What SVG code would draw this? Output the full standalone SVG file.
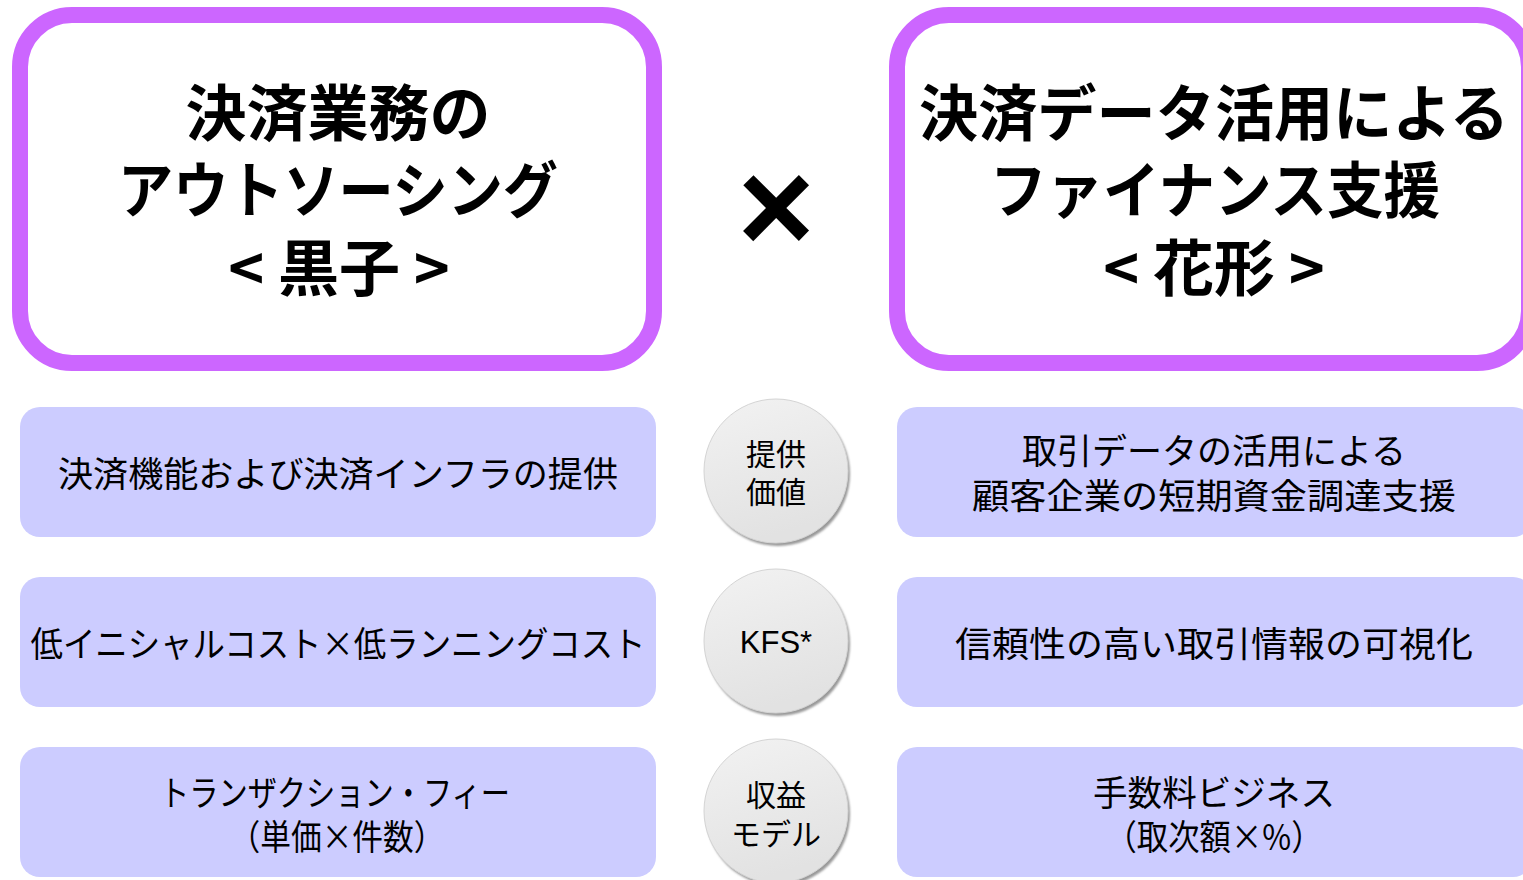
<svg xmlns="http://www.w3.org/2000/svg" width="1523" height="880" viewBox="0 0 1523 880">
<defs>
<style>
.big{fill:none;stroke:#CC66FF;stroke-width:16}
.box{fill:#CCCCFF}
.t{font-family:"Noto Sans CJK JP","Noto Sans CJK SC",sans-serif;fill:#000;text-anchor:middle}
.title{font-size:61px;font-weight:bold}
.bt{font-size:35px}
.ct{font-size:30px}
.circ{fill:url(#cg);stroke:#d4d4d4;stroke-width:1}
.sh{fill:#999999;filter:url(#blur)}
</style>
<linearGradient id="cg" x1="0" y1="0" x2="0.3" y2="1">
<stop offset="0" stop-color="#f2f2f2"/>
<stop offset="1" stop-color="#e2e2e2"/>
</linearGradient>
<filter id="blur" x="-20%" y="-20%" width="140%" height="140%"><feGaussianBlur stdDeviation="1.2"/></filter>
</defs>
<rect width="1523" height="880" fill="#fff"/>

<g id="left-title">
<rect class="big" x="20" y="15" width="634" height="348" rx="52"/>
<text class="t title" x="338" y="136">決済業務の</text>
<text class="t title" x="338" y="213" textLength="440" lengthAdjust="spacingAndGlyphs">アウトソーシング</text>
<text class="t title" x="339" y="291">&lt; 黒子 &gt;</text>
</g>

<g id="times">
<text x="776" y="252" font-family="Liberation Sans, sans-serif" font-weight="bold" font-size="132" text-anchor="middle">×</text>
</g>

<g id="right-title">
<rect class="big" x="897" y="15" width="632" height="348" rx="52"/>
<text class="t title" x="1214" y="136" textLength="590" lengthAdjust="spacingAndGlyphs">決済データ活用による</text>
<text class="t title" x="1215" y="213" textLength="450" lengthAdjust="spacingAndGlyphs">ファイナンス支援</text>
<text class="t title" x="1214" y="291">&lt; 花形 &gt;</text>
</g>

<g id="left-1">
<rect class="box" x="20" y="407" width="636" height="130" rx="20"/>
<text class="t bt" x="338" y="487" textLength="560" lengthAdjust="spacingAndGlyphs">決済機能および決済インフラの提供</text>
</g>
<g id="left-2">
<rect class="box" x="20" y="577" width="636" height="130" rx="20"/>
<text class="t bt" x="338" y="657" textLength="615" lengthAdjust="spacingAndGlyphs">低イニシャルコスト×低ランニングコスト</text>
</g>
<g id="left-3">
<rect class="box" x="20" y="747" width="636" height="130" rx="20"/>
<text class="t bt" x="335" y="806" textLength="350" lengthAdjust="spacingAndGlyphs">トランザクション・フィー</text>
<text class="t bt" x="337" y="850" textLength="215" lengthAdjust="spacingAndGlyphs">（単価×件数）</text>
</g>

<g id="right-1">
<rect class="box" x="897" y="407" width="636" height="130" rx="20"/>
<text class="t bt" x="1214" y="464" textLength="384" lengthAdjust="spacingAndGlyphs">取引データの活用による</text>
<text class="t bt" x="1214" y="509" textLength="484" lengthAdjust="spacingAndGlyphs">顧客企業の短期資金調達支援</text>
</g>
<g id="right-2">
<rect class="box" x="897" y="577" width="636" height="130" rx="20"/>
<text class="t bt" x="1214" y="657" textLength="518" lengthAdjust="spacingAndGlyphs">信頼性の高い取引情報の可視化</text>
</g>
<g id="right-3">
<rect class="box" x="897" y="747" width="636" height="130" rx="20"/>
<text class="t bt" x="1214" y="806" textLength="242" lengthAdjust="spacingAndGlyphs">手数料ビジネス</text>
<text class="t bt" x="1214" y="850" textLength="217" lengthAdjust="spacingAndGlyphs">（取次額×%）</text>
</g>

<g id="circle-1">
<circle class="sh" cx="778" cy="474" r="72"/>
<circle class="circ" cx="776" cy="471" r="72"/>
<text class="t ct" x="776" y="465">提供</text>
<text class="t ct" x="776" y="503">価値</text>
</g>
<g id="circle-2">
<circle class="sh" cx="778" cy="644" r="72"/>
<circle class="circ" cx="776" cy="641" r="72"/>
<text x="776" y="653" font-family="Liberation Sans, sans-serif" font-size="31" text-anchor="middle">KFS*</text>
</g>
<g id="circle-3">
<circle class="sh" cx="778" cy="814" r="72"/>
<circle class="circ" cx="776" cy="811" r="72"/>
<text class="t ct" x="776" y="806">収益</text>
<text class="t ct" x="776" y="845">モデル</text>
</g>
</svg>
